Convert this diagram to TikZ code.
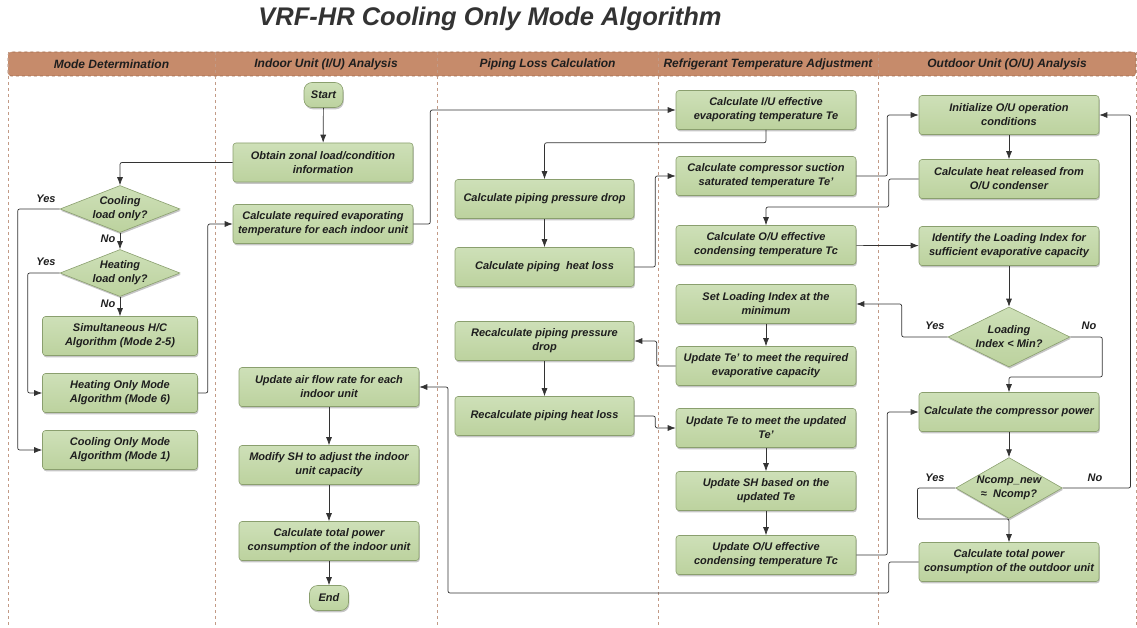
\documentclass[tikz,border=0pt]{standalone}
\usepackage{fontspec}
\setmainfont{Liberation Sans}
\usetikzlibrary{shapes.geometric,arrows.meta,shadows}
\definecolor{boxtop}{HTML}{CEE0B8}
\definecolor{boxbot}{HTML}{BCD29E}
\definecolor{boxborder}{HTML}{8A9F6E}
\definecolor{hdrfill}{HTML}{C68B6B}
\definecolor{hdrline}{HTML}{A06A4C}
\definecolor{laneline}{HTML}{C29A86}
\definecolor{txt}{HTML}{1E1E1E}
\definecolor{linec}{HTML}{333333}
\tikzset{
  basefont/.style={font=\bfseries\itshape\fontsize{11}{14}\selectfont, text=txt},
  pbox/.style={basefont, draw=boxborder, line width=0.6pt, top color=boxtop, bottom color=boxbot,
    rounded corners=3pt, minimum width=180pt, minimum height=39pt, align=center, inner sep=1pt,
    drop shadow={shadow xshift=0.8pt, shadow yshift=-1.8pt, opacity=0.45}},
  modebox/.style={pbox, minimum width=155pt},
  termbox/.style={pbox, rounded corners=8pt, minimum width=39pt, minimum height=25pt},
  dec/.style={basefont, shape=diamond, draw=boxborder, line width=0.6pt, top color=boxtop, bottom color=boxbot,
    align=center, inner sep=0pt, drop shadow={shadow xshift=0.8pt, shadow yshift=-1.8pt, opacity=0.45}},
  arr/.style={draw=linec, line width=0.7pt, rounded corners=2pt, -{Latex[length=8pt,width=6pt]}},
  lbl/.style={basefont},
  hdr/.style={font=\bfseries\itshape\fontsize{12}{14}\selectfont, text=txt},
  lane/.style={draw=laneline, dashed, line width=0.6pt},
}
\begin{document}
\begin{tikzpicture}[x=1pt,y=-1pt]
\useasboundingbox (0,0) rectangle (1137,628);
% title
\node[font=\bfseries\itshape\fontsize{25.5}{28}\selectfont, text=linec] (title) at (490,19) {VRF-HR Cooling Only Mode Algorithm};
% header band
\path[fill=hdrfill, draw=hdrline, dashed, line width=0.6pt, rounded corners=3pt]
  (8,76) -- (8,52) -- (1136,52) -- (1136,76) -- cycle;
% lanes
\foreach \x in {8,215,437,658,878,1136} { \draw[lane] (\x,52) -- (\x,628); }
\node[hdr] (h1) at (111.5,64) {Mode Determination};
\node[hdr] (h2) at (326,64) {Indoor Unit (I/U) Analysis};
\node[hdr] (h3) at (547.5,64) {Piping Loss Calculation};
\node[hdr] (h4) at (768,64) {Refrigerant Temperature Adjustment};
\node[hdr] (h5) at (1007,64) {Outdoor Unit (O/U) Analysis};

% Indoor unit lane
\node[termbox] (start) at (323.5,95) {Start};
\node[pbox] (obtain) at (323,162.5) {Obtain zonal load/condition\\information};
\node[pbox] (calcreq) at (323,224) {Calculate required evaporating\\temperature for each indoor unit};
\node[pbox] (airflow) at (329,387) {Update air flow rate for each\\indoor unit};
\node[pbox] (modsh) at (329,465) {Modify SH to adjust the indoor\\unit capacity};
\node[pbox] (totiu) at (329,541) {Calculate total power\\consumption of the indoor unit};
\node[termbox] (endn) at (329,598) {End};

% Mode lane
\node[dec, minimum width=120pt, minimum height=47pt, aspect=2.5] (cool) at (120,209) {Cooling\\load only?};
\node[dec, minimum width=120pt, minimum height=47pt, aspect=2.5] (heat) at (120,273) {Heating\\load only?};
\node[modebox] (simul) at (120,336) {Simultaneous H/C\\Algorithm (Mode 2-5)};
\node[modebox] (heatonly) at (120,393) {Heating Only Mode\\Algorithm (Mode 6)};
\node[modebox] (coolonly) at (120,450) {Cooling Only Mode\\Algorithm (Mode 1)};

% Piping lane
\node[pbox, minimum width=179pt] (pdrop) at (544.5,199) {Calculate piping pressure drop};
\node[pbox, minimum width=179pt] (ploss) at (544.5,267) {Calculate piping\ \ heat loss};
\node[pbox, minimum width=179pt] (rdrop) at (544.5,341) {Recalculate piping pressure\\drop};
\node[pbox, minimum width=179pt] (rloss) at (544.5,416) {Recalculate piping heat loss};

% Refrigerant lane
\node[pbox] (iute) at (766,110) {Calculate I/U effective\\evaporating temperature Te};
\node[pbox] (suction) at (766,176) {Calculate compressor suction\\saturated temperature Te'};
\node[pbox] (outc) at (766,245) {Calculate O/U effective\\condensing temperature Tc};
\node[pbox] (setli) at (766,304) {Set Loading Index at the\\minimum};
\node[pbox] (updtep) at (766,366) {Update Te' to meet the required\\evaporative capacity};
\node[pbox] (updte) at (766,428) {Update Te to meet the updated\\Te'};
\node[pbox] (updsh) at (766,491) {Update SH based on the\\updated Te};
\node[pbox] (updtc) at (766,555) {Update O/U effective\\condensing temperature Tc};

% Outdoor lane
\node[pbox] (init) at (1009,115) {Initialize O/U operation\\conditions};
\node[pbox] (heatrel) at (1009,179) {Calculate heat released from\\O/U condenser};
\node[pbox] (ident) at (1009,246) {Identify the Loading Index for\\sufficient evaporative capacity};
\node[dec, minimum width=122pt, minimum height=60pt, aspect=2] (loadd) at (1009,337) {Loading\\Index < Min?};
\node[pbox] (comp) at (1009,412) {Calculate the compressor power};
\node[dec, minimum width=106pt, minimum height=60pt, aspect=1.75] (ncomp) at (1009,488) {Ncomp\_new\\≈\ \ Ncomp?};
\node[pbox] (totou) at (1009,562) {Calculate total power\\consumption of the outdoor unit};

% labels
\node[lbl] (y1) at (46,199) {Yes};
\node[lbl] (y2) at (46,262) {Yes};
\node[lbl] (n1) at (108,239) {No};
\node[lbl] (n2) at (108,304) {No};
\node[lbl] (y3) at (935,326) {Yes};
\node[lbl] (n3) at (1089,326) {No};
\node[lbl] (y4) at (935,478) {Yes};
\node[lbl] (n4) at (1095,478) {No};

% coordinates
\coordinate (r1) at (448,593);

% connectors
\draw[arr] (start) -- (obtain);
\draw[arr] (obtain.west) -| (cool.north);
\draw[arr] (cool.west) -- ++(-42,0) |- (coolonly.west);
\draw[arr] (heat.west) -- ++(-32,0) |- (heatonly.west);
\draw[arr] (cool.south) -- (heat.north);
\draw[arr] (heat.south) -- (simul.north);
\draw[arr] (heatonly.east) -- ++(10,0) |- (calcreq.west);
\draw[arr] (calcreq.east) -- ++(17,0) |- (iute.west);
\draw[arr] (iute.south) -- ++(0,13) -| (pdrop.north);
\draw[arr] (pdrop) -- (ploss);
\draw[arr] (ploss.east) -- ++(21,0) |- (suction.west);
\draw[arr] (suction.east) -- ++(31,0) |- (init.west);
\draw[arr] (init) -- (heatrel);
\draw[arr] (heatrel.west) -- ++(-30,0) -- ++(0,28) -| (outc.north);
\draw[arr] (outc) -- (ident);
\draw[arr] (ident) -- (loadd);
\draw[arr] (loadd.west) -- ++(-46,0) |- (setli.east);
\draw[arr] (loadd.east) -- ++(32,0) -- ++(0,40) -| (comp.north);
\draw[arr] (setli) -- (updtep);
\draw[arr] (updtep.west) -- ++(-19,0) |- (rdrop.east);
\draw[arr] (rdrop) -- (rloss);
\draw[arr] (rloss.east) -- ++(21,0) |- (updte.west);
\draw[arr] (updte) -- (updsh);
\draw[arr] (updsh) -- (updtc);
\draw[arr] (updtc.east) -- ++(31,0) |- (comp.west);
\draw[arr] (comp) -- (ncomp);
\draw[arr] (ncomp.west) -- ++(-38,0) -- ++(0,31) -| (totou.north);
\draw[arr] (ncomp.east) -- ++(68,0) |- (init.east);
\draw[arr] (totou.west) -- ++(-30,0) |- (r1) |- (airflow.east);
\draw[arr] (airflow) -- (modsh);
\draw[arr] (modsh) -- (totiu);
\draw[arr] (totiu) -- (endn);
\end{tikzpicture}
\end{document}
